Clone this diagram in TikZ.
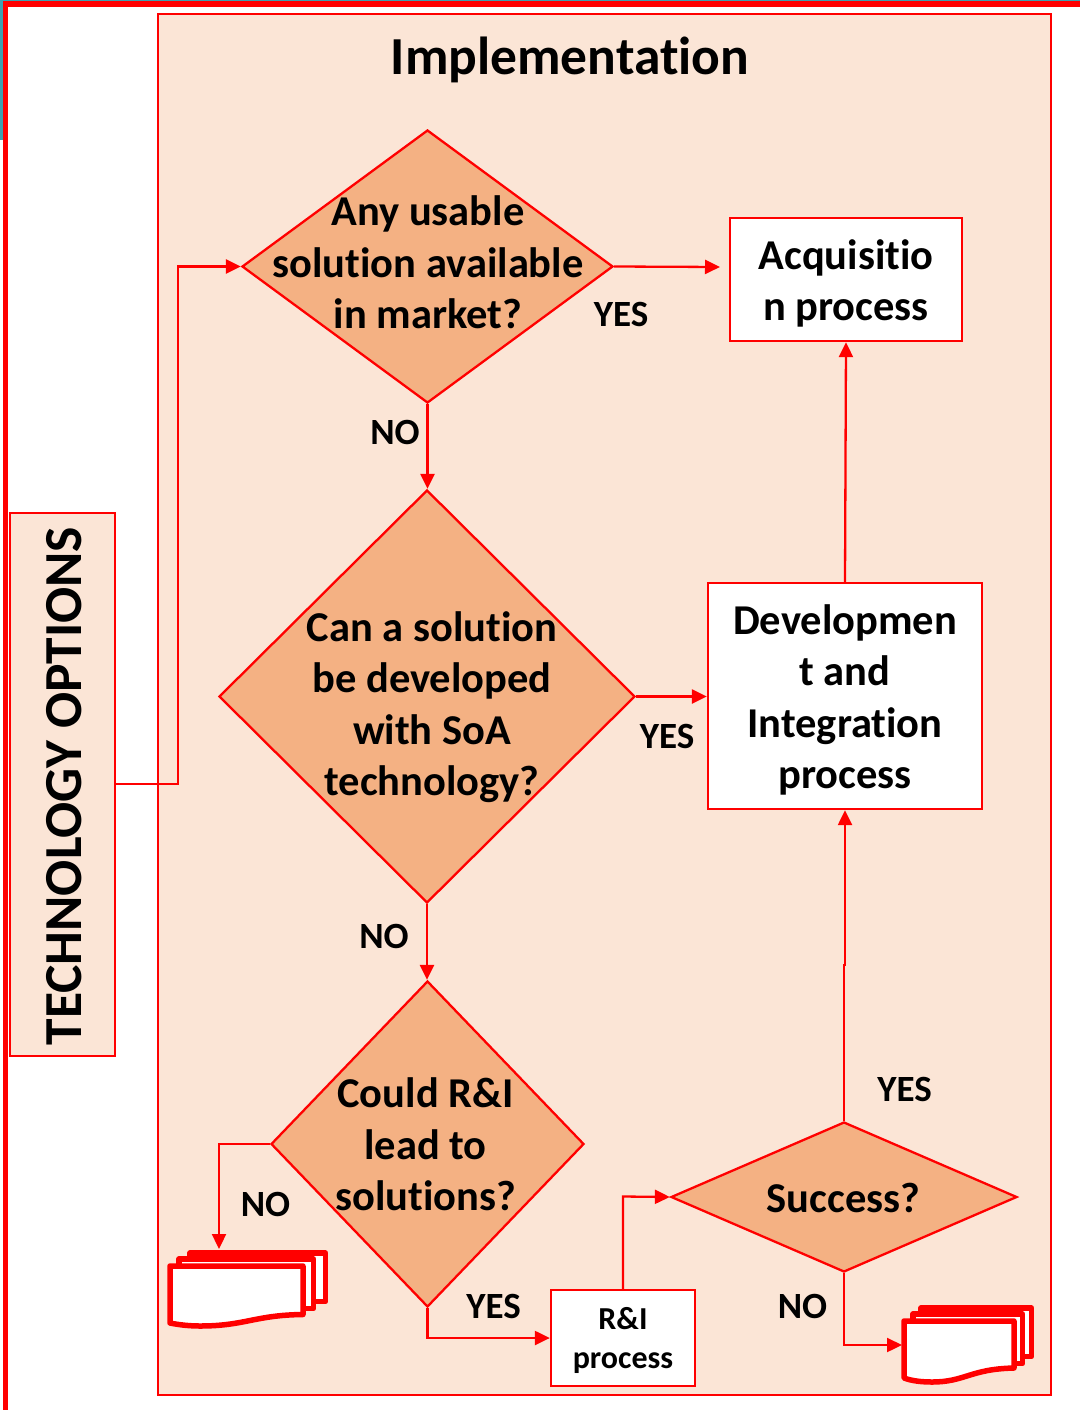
\documentclass[tikz,border=0pt]{standalone}
\usepackage{fontspec}
\setmainfont[Ligatures=CommonOff]{Carlito}
\usetikzlibrary{shapes.geometric,arrows.meta}
\definecolor{panelfill}{HTML}{FBE5D6}
\definecolor{diafill}{HTML}{F4B183}
\definecolor{edgeteal}{HTML}{3F9FB0}
\tikzset{
  frame/.style={draw=red,line width=2.3pt},
  dia/.style={diamond,draw=red,fill=diafill,line width=2.3pt,inner sep=0pt,aspect=1},
  procbox/.style={rectangle,draw=red,fill=white,line width=2.3pt,inner sep=0pt,align=center,font=\fontsize{42.5}{51.5}\selectfont\bfseries},
  diatext/.style={align=center,inner sep=0pt,font=\fontsize{42.5}{51.5}\selectfont\bfseries},
  lab/.style={inner sep=0pt,font=\fontsize{37}{44}\selectfont\bfseries},
  conn/.style={draw=red,line width=2.3pt,-{Triangle[length=15pt,width=14pt]}},
  docsheet/.style={draw=red,fill=white,line width=5.5pt,line join=round},
}
\begin{document}
\begin{tikzpicture}[x=1pt,y=-1pt]
\useasboundingbox (0,0) rectangle (1080,1410);
\fill[white] (0,0) rectangle (1080,1410);
\fill[edgeteal] (0,0) rectangle (3,140);
\fill[edgeteal] (0,0) rectangle (1080,1.5);
\fill[red] (3,1.5) rectangle (1080,7);
\fill[red] (3,1.5) rectangle (8,1410);
% panel
\node[frame,fill=panelfill,rectangle,inner sep=0pt,minimum width=893pt,minimum height=1381pt] (panel) at (604.5,704.5) {};
\node[inner sep=0pt,font=\fontsize{53.5}{60}\selectfont\bfseries] (title) at (570,60) {Implementation};
% tech box
\node[frame,fill=panelfill,rectangle,inner sep=0pt,minimum width=105pt,minimum height=543pt] (tech) at (62.5,784.5) {};
\node[inner sep=0pt,rotate=90,font=\fontsize{53.5}{58}\selectfont\bfseries] (techtext) at (64,786) {TECHNOLOGY OPTIONS};
% diamonds
\node[dia,minimum width=371pt,minimum height=273pt] (d1) at (427.5,266.5) {};
\node[diatext] (t1) at (428,262.5) {Any usable\\solution available\\in market?};
\node[dia,minimum width=416pt,minimum height=413pt] (d2) at (427,696.5) {};
\node[diatext] (t2) at (432,707) {Can a solution\\be developed\\with SoA\\technology?};
\node[dia,minimum width=313pt,minimum height=326pt] (d3) at (427.5,1144) {};
\node[diatext] (t3) at (425.5,1144.5) {Could R\&I\\lead to\\solutions?};
\node[dia,minimum width=346pt,minimum height=150pt] (d4) at (844,1197) {};
\node[diatext] (t4) at (843.5,1198) {Success?};
% boxes
\node[procbox,minimum width=232pt,minimum height=123pt] (acq) at (846,279.5) {\rule{0pt}{38pt}Acquisitio\\n process};
\node[procbox,minimum width=274pt,minimum height=226pt] (dev) at (845,696) {\rule{0pt}{38pt}Developmen\\t and\\Integration\\process};
\node[procbox,minimum width=144pt,minimum height=96pt,font=\fontsize{32}{39}\selectfont\bfseries] (ri) at (623,1338) {\rule{0pt}{27pt}R\&I\\process};
% documents
\coordinate (doc1in) at (219,1249);
\coordinate (doc2in) at (902,1345);
\draw[docsheet] (190,1253) -- (325.5,1253) -- (325.5,1301.5) -- (190,1301.5) -- cycle;
\draw[docsheet] (179,1259) -- (313.5,1259) -- (313.5,1308.5) -- (179,1308.5) -- cycle;
\draw[docsheet] (170,1266) -- (303,1266) -- (303,1314.5) .. controls (255,1315) and (245,1326) .. (200,1326) .. controls (190,1326) and (180,1325) .. (170,1323) -- cycle;
\draw[docsheet] (921,1308) -- (1031.5,1308) -- (1031.5,1356.5) -- (921,1356.5) -- cycle;
\draw[docsheet] (913,1314) -- (1022.5,1314) -- (1022.5,1363.5) -- (913,1363.5) -- cycle;
\draw[docsheet] (904,1321) -- (1014,1321) -- (1014,1368) .. controls (970,1369) and (965,1382) .. (932,1382) .. controls (922,1382) and (912,1381) .. (904,1378) -- cycle;
% connectors
\coordinate (acqin) at (720,267);
\draw[conn] (tech.east |- 0,784) -- (178,784) -- (178,266.5) -- (d1.west);
\draw[conn] (d1.east) -- (acqin);
\draw[conn] (d1.south) -- (d2.north -| d1.south);
\draw[conn] (d2.east) -- (dev.west |- d2.east);
\draw[conn] (dev.north) -- (acq.south);
\draw[conn] (d2.south) -- (d3.north -| d2.south);
\draw[conn] (d3.west) -- (219,1144) -- (doc1in);
\draw[conn] (d3.south) -- (427.5,1338) -- (ri.west);
\draw[conn] (ri.north) -- (623,1196.5) -- (d4.west);
\draw[conn] (d4.north) -- (844,965) -- (845,965) -- (dev.south);
\draw[conn] (d4.south) -- (844,1345) -- (doc2in);
% labels
\node[lab] (l1) at (621,314.5) {YES};
\node[lab] (l2) at (395,432) {NO};
\node[lab] (l3) at (667,736) {YES};
\node[lab] (l4) at (384,936) {NO};
\node[lab] (l5) at (265.5,1204) {NO};
\node[lab] (l6) at (493.5,1306) {YES};
\node[lab] (l7) at (904.5,1089) {YES};
\node[lab] (l8) at (802.5,1306) {NO};
\end{tikzpicture}
\end{document}
